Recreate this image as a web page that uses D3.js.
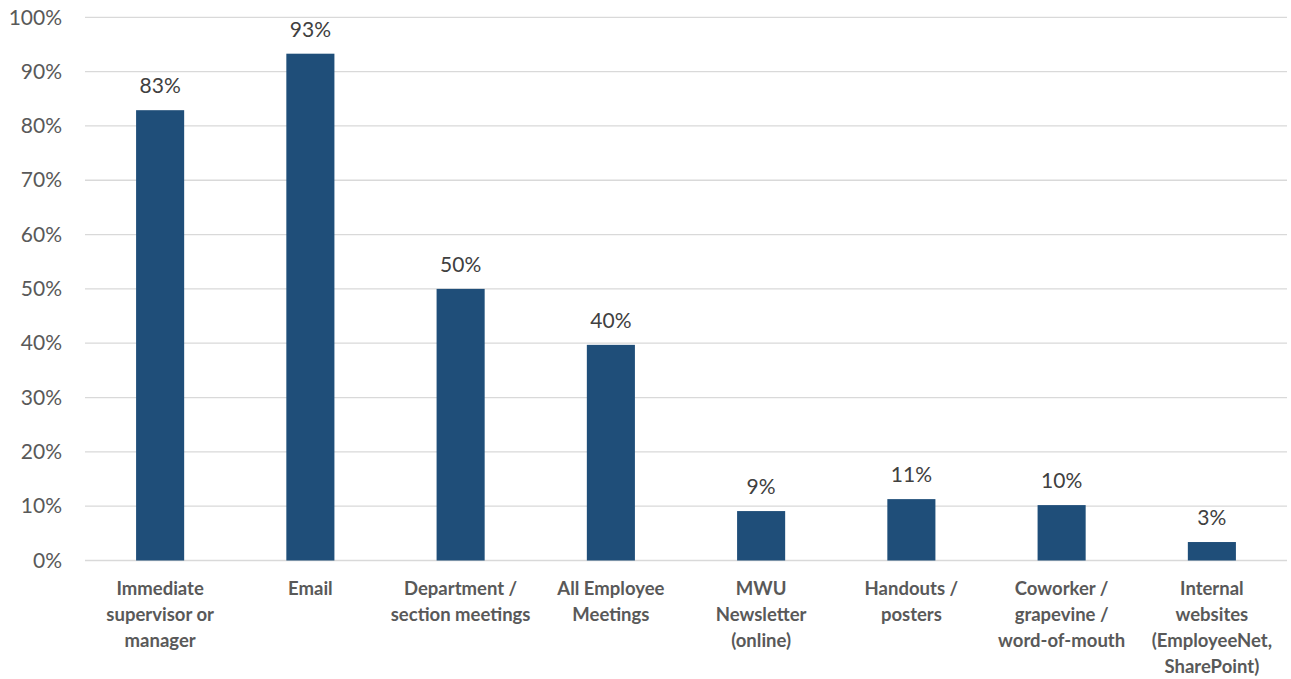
<!DOCTYPE html>
<html><head><meta charset="utf-8">
<script src="https://cdn.jsdelivr.net/npm/d3@7"></script>
<style>body{margin:0;background:#fff;} svg{display:block;}</style>
</head><body>
<svg id="chart" width="1291" height="679"></svg>
<script>
const categories = [
  ["Immediate","supervisor or","manager"],
  ["Email"],
  ["Department /","section meetings"],
  ["All Employee","Meetings"],
  ["MWU","Newsletter","(online)"],
  ["Handouts /","posters"],
  ["Coworker /","grapevine /","word-of-mouth"],
  ["Internal","websites","(EmployeeNet,","SharePoint)"]
];
const values = [0.829, 0.933, 0.500, 0.397, 0.091, 0.113, 0.102, 0.034];
const valueLabels = ["83%","93%","50%","40%","9%","11%","10%","3%"];
const yTicks = [0,0.1,0.2,0.3,0.4,0.5,0.6,0.7,0.8,0.9,1.0];

const svg = d3.select("#chart");
const font = "Lato, 'Open Sans', sans-serif";
const x = d3.scaleBand().domain(d3.range(categories.length)).range([85, 1287]).paddingInner(0.68).paddingOuter(0.34);
const y = d3.scaleLinear().domain([0,1]).range([560.5, 17.3]);

// gridlines
svg.append("g").selectAll("line").data(yTicks).join("line")
  .attr("x1", 85).attr("x2", 1287)
  .attr("y1", d => y(d)).attr("y2", d => y(d))
  .attr("stroke", "#d9d9d9").attr("stroke-width", 1.3);

// y axis labels
const yAxis = d3.axisLeft(y).tickValues(yTicks).tickFormat(d3.format(".0%")).tickSize(0).tickPadding(0);
const ya = svg.append("g").attr("transform","translate(62,0)").call(yAxis);
ya.select(".domain").remove();
ya.selectAll("text").attr("font-family", font).attr("font-size", 21).attr("fill", "#595959");

// bars
svg.append("g").selectAll("rect").data(values).join("rect")
  .attr("x", (d,i) => x(i)).attr("width", x.bandwidth())
  .attr("y", d => y(d)).attr("height", d => y(0) - y(d))
  .attr("fill", "#1f4e79");

// value labels
svg.append("g").selectAll("text").data(values).join("text")
  .attr("x", (d,i) => x(i) + x.bandwidth()/2)
  .attr("y", d => y(d) - 17)
  .attr("text-anchor","middle")
  .attr("font-family", font).attr("font-size", 21).attr("fill", "#404040")
  .text((d,i) => valueLabels[i]);

// category labels
const cg = svg.append("g");
categories.forEach((lines, i) => {
  const t = cg.append("text")
    .attr("x", x(i) + x.bandwidth()/2).attr("y", 595)
    .attr("text-anchor","middle")
    .attr("font-family", font).attr("font-size", 18.5).attr("font-weight", "bold").attr("fill", "#595959");
  lines.forEach((l, j) => {
    t.append("tspan").attr("x", x(i) + x.bandwidth()/2).attr("dy", j === 0 ? 0 : 26).text(l);
  });
});
</script>
</body></html>
